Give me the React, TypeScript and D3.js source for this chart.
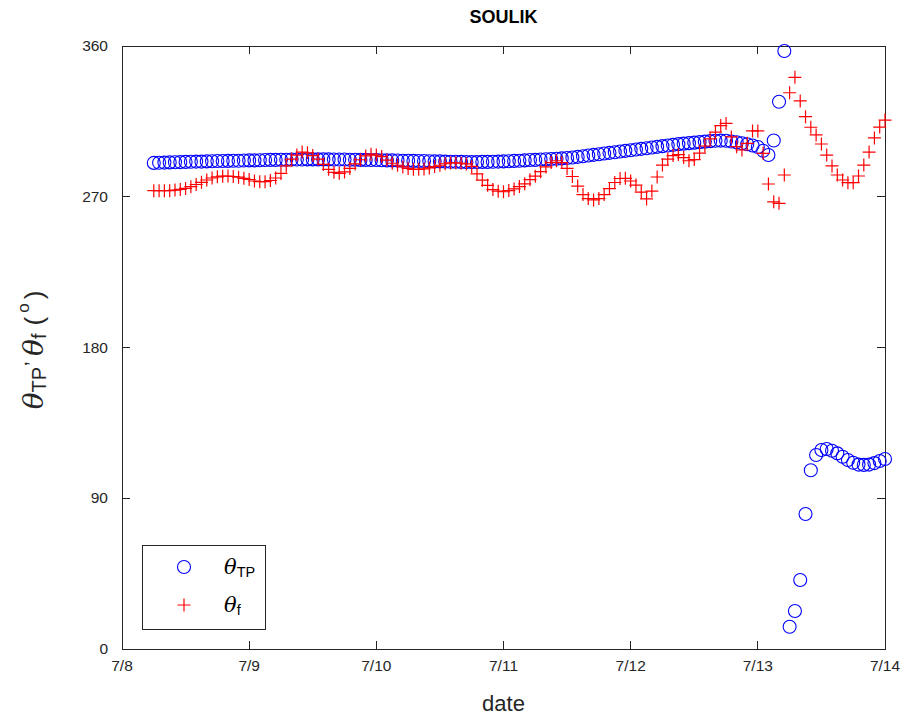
import React from "react";
import * as d3 from "d3";

// Hourly samples starting 2018-07-08 06:00 (local time)
const START = new Date(2018, 6, 8, 6);
const X_DOMAIN = [new Date(2018, 6, 8), new Date(2018, 6, 14)];
const Y_TICKS = [0, 90, 180, 270, 360];

// Typhoon motion direction θ_TP (degrees)
const thetaTP = [
  290.2, 290.3, 290.4, 290.5, 290.6, 290.7, 290.8, 290.9, 291.0, 291.0,
  291.1, 291.2, 291.3, 291.3, 291.4, 291.5, 291.5, 291.6, 291.7,
  291.7, 291.8, 291.9, 292.0, 292.0, 292.1, 292.1, 292.2, 292.2, 292.2,
  292.3, 292.3, 292.3, 292.3, 292.3, 292.2, 292.2, 292.2, 292.1, 292.1,
  292.0, 292.0, 291.9, 291.9,
  291.8, 291.7, 291.7, 291.6, 291.5, 291.5, 291.4, 291.3, 291.3, 291.2,
  291.1, 291.1, 291.0, 290.9, 290.9, 290.8, 290.7, 290.7, 290.7, 290.8,
  290.8, 290.9, 291.0, 291.1,
  291.2, 291.4, 291.5, 291.7, 291.9, 292.0, 292.2, 292.4, 292.5, 292.7, 292.9, 293.1,
  293.4, 293.8, 294.2, 294.6, 295.0, 295.4, 295.8, 296.2, 296.6, 297.0, 297.4, 297.8,
  298.2, 298.6, 299.0, 299.4, 299.8, 300.2, 300.6, 301.0, 301.4, 301.7, 302.0, 302.3,
  302.6, 302.9, 303.2, 303.4, 303.5, 303.4, 303.0, 302.5, 301.9, 301.3,
  300.6, 299.7, 297.5, 294.9, 303.6, 326.7, 357.0,
  13.3, 22.7, 41.2, 80.6, 106.7, 115.8, 118.8, 119.4, 118.4, 116.8,
  114.8, 112.8, 111.2, 110.1, 109.9, 110.1, 111.0, 112.2, 113.4,
];

// Steering flow direction θ_f (degrees)
const thetaF = [
  273.6, 273.6, 273.6, 273.6, 274.0, 274.4, 275.0, 276.0, 277.3, 278.6,
  280.0, 281.2, 281.9, 282.3, 282.4, 282.1, 281.7, 281.0, 280.3, 279.4,
  279.0, 279.0, 279.7, 281.2, 283.9, 288.4, 292.5, 294.9, 296.7, 296.2,
  294.6, 292.5, 289.3, 286.4, 284.6, 284.0, 284.8, 286.9, 289.6, 292.1,
  294.4, 295.4, 294.9, 294.0, 291.9, 290.0, 288.8, 287.8, 286.9, 286.4,
  286.4, 286.6, 287.2, 288.0, 288.8, 289.7, 290.2, 290.3, 290.0, 289.6,
  288.1, 283.7, 279.9, 276.8, 274.3, 273.3, 273.0, 273.7, 274.7, 276.1,
  277.7, 280.2, 282.3, 285.0, 287.8, 290.4, 291.5, 290.4, 286.9, 282.1,
  276.4, 271.3, 268.9, 268.1, 268.9, 271.3, 274.9, 278.5, 280.9, 281.0,
  279.4, 277.0, 272.8, 268.7, 273.4, 281.8, 288.9, 292.5, 294.6, 295.2,
  293.4, 291.5, 292.2, 296.1, 300.3, 304.5, 308.6, 312.5, 313.8, 305.7,
  299.9, 297.9, 301.9, 309.3, 309.3, 295.9, 277.6, 267.0, 266.1, 283.0,
  332.1, 341.3, 327.2, 317.8, 311.5, 306.9, 301.5, 294.9, 288.4, 283.0,
  280.0, 278.4, 278.4, 282.4, 288.9, 296.7, 305.1, 311.6, 315.8,
];

const W = 901;
const H = 717;
const M = { left: 122, right: 885, top: 46, bottom: 649 };
const SANS = "'Liberation Sans', Arial, Helvetica, sans-serif";
const GREEK = "'DejaVu Serif', 'Liberation Serif', serif";
const AX = "#262626";

function Cross({ x, y, s, color }: { x: number; y: number; s: number; color: string }) {
  return (
    <path
      d={`M${x - s},${y}H${x + s}M${x},${y - s}V${y + s}`}
      stroke={color}
      strokeWidth={1.2}
      fill="none"
    />
  );
}

export default function App() {
  const x = d3.scaleTime().domain(X_DOMAIN).range([M.left, M.right]);
  const y = d3.scaleLinear().domain([0, 360]).range([M.bottom, M.top]);
  const times = thetaTP.map((_, i) => d3.timeHour.offset(START, i));
  const xTicks = d3.timeDay.range(X_DOMAIN[0], d3.timeDay.offset(X_DOMAIN[1], 1));
  const fmt = d3.timeFormat("%-m/%-d");
  const tl = 8;

  return (
    <svg width={W} height={H} style={{ position: "absolute", left: 0, top: 0, background: "#fff" }}>
      <rect x={0} y={0} width={W} height={H} fill="#fff" />
      {/* frame */}
      <rect
        x={M.left}
        y={M.top}
        width={M.right - M.left}
        height={M.bottom - M.top}
        fill="none"
        stroke={AX}
        strokeWidth={1}
        shapeRendering="crispEdges"
      />
      {/* x ticks */}
      {xTicks.map((d, i) => (
        <g key={"xt" + i}>
          <line x1={x(d)} x2={x(d)} y1={M.bottom} y2={M.bottom - tl} stroke={AX} shapeRendering="crispEdges" />
          <line x1={x(d)} x2={x(d)} y1={M.top} y2={M.top + tl} stroke={AX} shapeRendering="crispEdges" />
          <text x={x(d)} y={M.bottom + 22} textAnchor="middle" fontFamily={SANS} fontSize={15.5} fill={AX}>
            {fmt(d)}
          </text>
        </g>
      ))}
      {/* y ticks */}
      {Y_TICKS.map((v) => (
        <g key={"yt" + v}>
          <line x1={M.left} x2={M.left + tl} y1={y(v)} y2={y(v)} stroke={AX} shapeRendering="crispEdges" />
          <line x1={M.right} x2={M.right - tl} y1={y(v)} y2={y(v)} stroke={AX} shapeRendering="crispEdges" />
          <text x={M.left - 14} y={y(v) + 5} textAnchor="end" fontFamily={SANS} fontSize={15.5} fill={AX}>
            {v}
          </text>
        </g>
      ))}
      {/* θ_TP circles */}
      {thetaTP.map((v, i) => (
        <circle key={"c" + i} cx={x(times[i])} cy={y(v)} r={6.5} fill="none" stroke="#0000ff" strokeWidth={1.1} />
      ))}
      {/* θ_f crosses */}
      {thetaF.map((v, i) => (
        <Cross key={"p" + i} x={x(times[i])} y={y(v)} s={6.5} color="#ff0000" />
      ))}
      {/* title */}
      <text x={(M.left + M.right) / 2} y={23} textAnchor="middle" fontFamily={SANS} fontSize={18} fontWeight="bold" fill="#000">
        SOULIK
      </text>
      {/* x label */}
      <text x={(M.left + M.right) / 2} y={711} textAnchor="middle" fontFamily={SANS} fontSize={22} fill={AX}>
        date
      </text>
      {/* y label */}
      <text transform="translate(43,350) rotate(-90)" textAnchor="middle" fill={AX}>
        <tspan fontFamily={GREEK} fontStyle="italic" fontSize={28}>θ</tspan>
        <tspan fontFamily={SANS} fontSize={20} dy={3}>TP</tspan>
        <tspan fontFamily={SANS} fontSize={20} dy={-19} dx={3}>,</tspan>
        <tspan fontFamily={GREEK} fontStyle="italic" fontSize={28} dy={16} dx={5}>θ</tspan>
        <tspan fontFamily={SANS} fontSize={20} dy={3}>f</tspan>
        <tspan fontFamily={SANS} fontSize={26} dy={-3} dx={8}>(</tspan>
        <tspan fontFamily={SANS} fontSize={17} dy={-14} dx={4}>o</tspan>
        <tspan fontFamily={SANS} fontSize={26} dy={14} dx={4}>)</tspan>
      </text>
      {/* legend */}
      <g>
        <rect x={142} y={545} width={123} height={84} fill="#fff" stroke={AX} strokeWidth={1} shapeRendering="crispEdges" />
        <circle cx={184} cy={567} r={6.5} fill="none" stroke="#0000ff" strokeWidth={1.1} />
        <Cross x={184} y={605} s={6.5} color="#ff0000" />
        <text x={224} y={574} fill="#000">
          <tspan fontFamily={GREEK} fontStyle="italic" fontSize={21}>θ</tspan>
          <tspan fontFamily={SANS} fontSize={14.5} dy={3}>TP</tspan>
        </text>
        <text x={224} y={612} fill="#000">
          <tspan fontFamily={GREEK} fontStyle="italic" fontSize={21}>θ</tspan>
          <tspan fontFamily={SANS} fontSize={14.5} dy={3}>f</tspan>
        </text>
      </g>
    </svg>
  );
}
